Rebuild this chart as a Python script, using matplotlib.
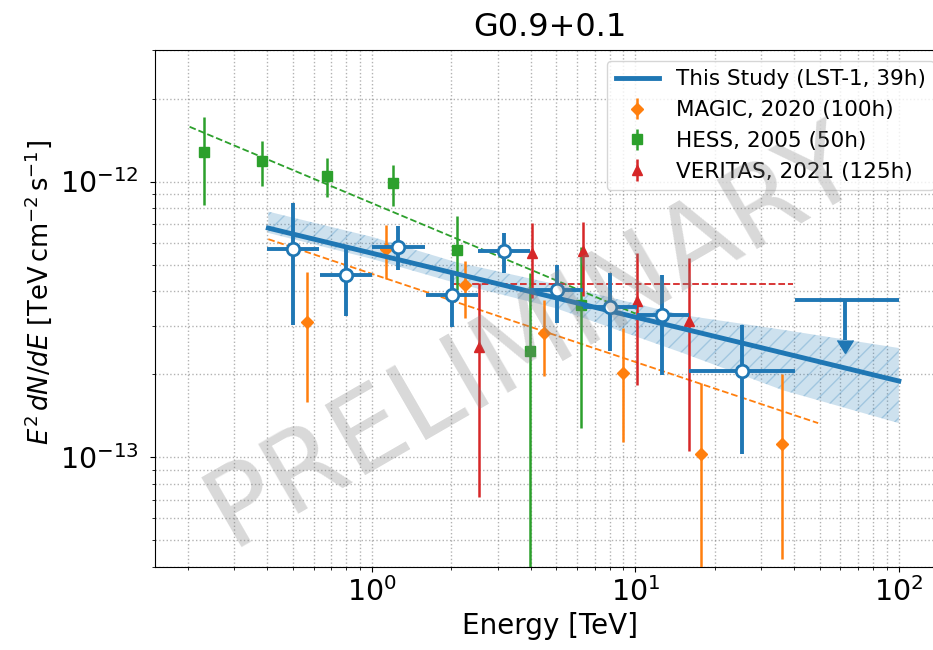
import numpy as np
import matplotlib
matplotlib.use("Agg")
import matplotlib.pyplot as plt

# LST-1 flux points (E in TeV, E^2 dN/dE in TeV cm^-2 s^-1)
lst_e = [0.503, 0.795, 1.258, 2.006, 3.18, 5.05, 8.0, 12.6, 25.4]
lst_e_lo = [0.398, 0.635, 1.0, 1.6, 2.53, 3.98, 6.34, 10.1, 16.0]
lst_e_hi = [0.63, 1.0, 1.59, 2.53, 3.98, 6.34, 10.1, 16.0, 40.2]
lst_f = [5.69e-13, 4.59e-13, 5.78e-13, 3.88e-13, 5.62e-13, 4.05e-13, 3.52e-13, 3.28e-13, 2.05e-13]
lst_f_up = [8.35e-13, 5.74e-13, 6.87e-13, 4.65e-13, 6.53e-13, 4.99e-13, 4.65e-13, 4.59e-13, 3.02e-13]
lst_f_dn = [3.02e-13, 3.24e-13, 4.78e-13, 2.98e-13, 4.65e-13, 3.06e-13, 2.42e-13, 1.99e-13, 1.03e-13]

# LST-1 upper limit
ul_e = [62.6]
ul_e_lo = [40.2]
ul_e_hi = [100.5]
ul_f = [3.72e-13]
ul_arrow = [2.67e-13]

# LST-1 power-law fit and its band
lst_fit_e = [0.404, 100.0]
lst_fit_f = [6.78e-13, 1.89e-13]
band_e = [0.404, 1.0, 2.07, 4.95, 15.1, 36.3, 100.0]
band_hi = [7.78e-13, 6.30e-13, 5.11e-13, 4.25e-13, 3.28e-13, 2.90e-13, 2.49e-13]
band_lo = [6.51e-13, 5.24e-13, 4.29e-13, 3.48e-13, 2.39e-13, 1.75e-13, 1.33e-13]

# MAGIC 2020
magic_e = [0.568, 1.13, 2.25, 4.50, 8.97, 17.8, 35.9]
magic_f = [3.10e-13, 5.68e-13, 4.22e-13, 2.83e-13, 2.02e-13, 1.03e-13, 1.12e-13]
magic_up = [4.68e-13, 6.97e-13, 5.17e-13, 3.71e-13, 2.94e-13, 1.86e-13, 2.00e-13]
magic_dn = [1.59e-13, 4.42e-13, 3.19e-13, 1.97e-13, 1.14e-13, 1e-15, 4.28e-14]
magic_fit_e = [0.404, 49.4]
magic_fit_f = [6.18e-13, 1.33e-13]

# HESS 2005
hess_e = [0.230, 0.382, 0.673, 1.205, 2.11, 3.98, 6.21]
hess_f = [1.28e-12, 1.19e-12, 1.05e-12, 9.87e-13, 5.65e-13, 2.43e-13, 3.56e-13]
hess_up = [1.72e-12, 1.40e-12, 1.22e-12, 1.15e-12, 7.51e-13, 4.66e-13, 5.81e-13]
hess_dn = [8.23e-13, 9.67e-13, 8.78e-13, 8.18e-13, 4.05e-13, 1e-15, 1.28e-13]
hess_fit_e = [0.203, 10.0]
hess_fit_f = [1.58e-12, 3.32e-13]

# VERITAS 2021
ver_e = [2.54, 4.04, 6.34, 10.1, 16.0]
ver_f = [2.51e-13, 5.50e-13, 5.62e-13, 3.70e-13, 3.12e-13]
ver_up = [4.28e-13, 7.10e-13, 7.15e-13, 5.50e-13, 5.27e-13]
ver_dn = [7.2e-14, 3.78e-13, 3.83e-13, 1.83e-13, 1.05e-13]
ver_fit_e = [2.03, 39.8]
ver_fit_f = [4.24e-13, 4.24e-13]

y_major = [1e-13, 1e-12]


def asym(val, up, dn):
    val = np.array(val)
    return [val - np.array(dn), np.array(up) - val]


fig = plt.figure(figsize=(9.33, 6.5), dpi=100)
ax = fig.add_axes([0.1661, 0.1277, 0.847, 0.7954])
ax.set_xscale("log")
ax.set_yscale("log")

blue = "tab:blue"

ax.fill_between(band_e, band_lo, band_hi, facecolor=(0.12, 0.47, 0.71, 0.22),
                edgecolor=(0.12, 0.47, 0.71, 0.25), hatch="//", linewidth=0, zorder=2)
ax.plot(lst_fit_e, lst_fit_f, color=blue, lw=3.5, zorder=4, label="This Study (LST-1, 39h)")

ax.plot(magic_fit_e, magic_fit_f, color="tab:orange", ls="--", lw=1.3, zorder=3)
ax.plot(hess_fit_e, hess_fit_f, color="tab:green", ls="--", lw=1.3, zorder=3)
ax.plot(ver_fit_e, ver_fit_f, color="tab:red", ls="--", lw=1.3, zorder=3)

ax.errorbar(magic_e, magic_f, yerr=asym(magic_f, magic_up, magic_dn), fmt="D",
            color="tab:orange", ms=6.5, elinewidth=1.8, zorder=3, label="MAGIC, 2020 (100h)")
ax.errorbar(hess_e, hess_f, yerr=asym(hess_f, hess_up, hess_dn), fmt="s",
            color="tab:green", ms=6.5, elinewidth=1.8, zorder=3, label="HESS, 2005 (50h)")
ax.errorbar(ver_e, ver_f, yerr=asym(ver_f, ver_up, ver_dn), fmt="^",
            color="tab:red", ms=7, elinewidth=1.8, zorder=3, label="VERITAS, 2021 (125h)")

ax.errorbar(lst_e, lst_f, xerr=asym(lst_e, lst_e_hi, lst_e_lo), yerr=asym(lst_f, lst_f_up, lst_f_dn),
            fmt="o", color=blue, mfc="white", mec=blue, mew=2, ms=9, elinewidth=2.8, zorder=5)

ul = ax.errorbar(ul_e, ul_f, xerr=asym(ul_e, ul_e_hi, ul_e_lo),
                 yerr=[np.array(ul_f) - np.array(ul_arrow), [0]], uplims=True,
                 fmt="none", ecolor=blue, elinewidth=2.8, capsize=0, zorder=5)
for cl in ul[1]:
    cl.set_markersize(12)
    cl.set_color(blue)

ax.set_xlim(0.15, 150)
ax.set_ylim(4e-14, 3e-12)
ax.set_yticks(y_major)
ax.grid(True, which="both", ls=":", color="gray", alpha=0.6, lw=1)
ax.tick_params(labelsize=20.5)
ax.tick_params(axis="y", which="major", pad=8)
ax.set_xlabel("Energy [TeV]", fontsize=20)
ax.set_ylabel(r"$E^2\,dN/dE$ [$\mathrm{TeV\,cm^{-2}\,s^{-1}}$]", fontsize=18.5)
ax.yaxis.set_label_coords(-0.128, 0.53)
ax.set_title("G0.9+0.1", fontsize=23, pad=10)

ax.legend(loc="upper right", fontsize=15.5, framealpha=0.8)

ax.text(0.478, 0.445, "PRELIMINARY", transform=ax.transAxes, fontsize=80, color="gray",
        alpha=0.3, rotation=30, ha="center", va="center", zorder=10)

fig.savefig("out.png", dpi=100)
